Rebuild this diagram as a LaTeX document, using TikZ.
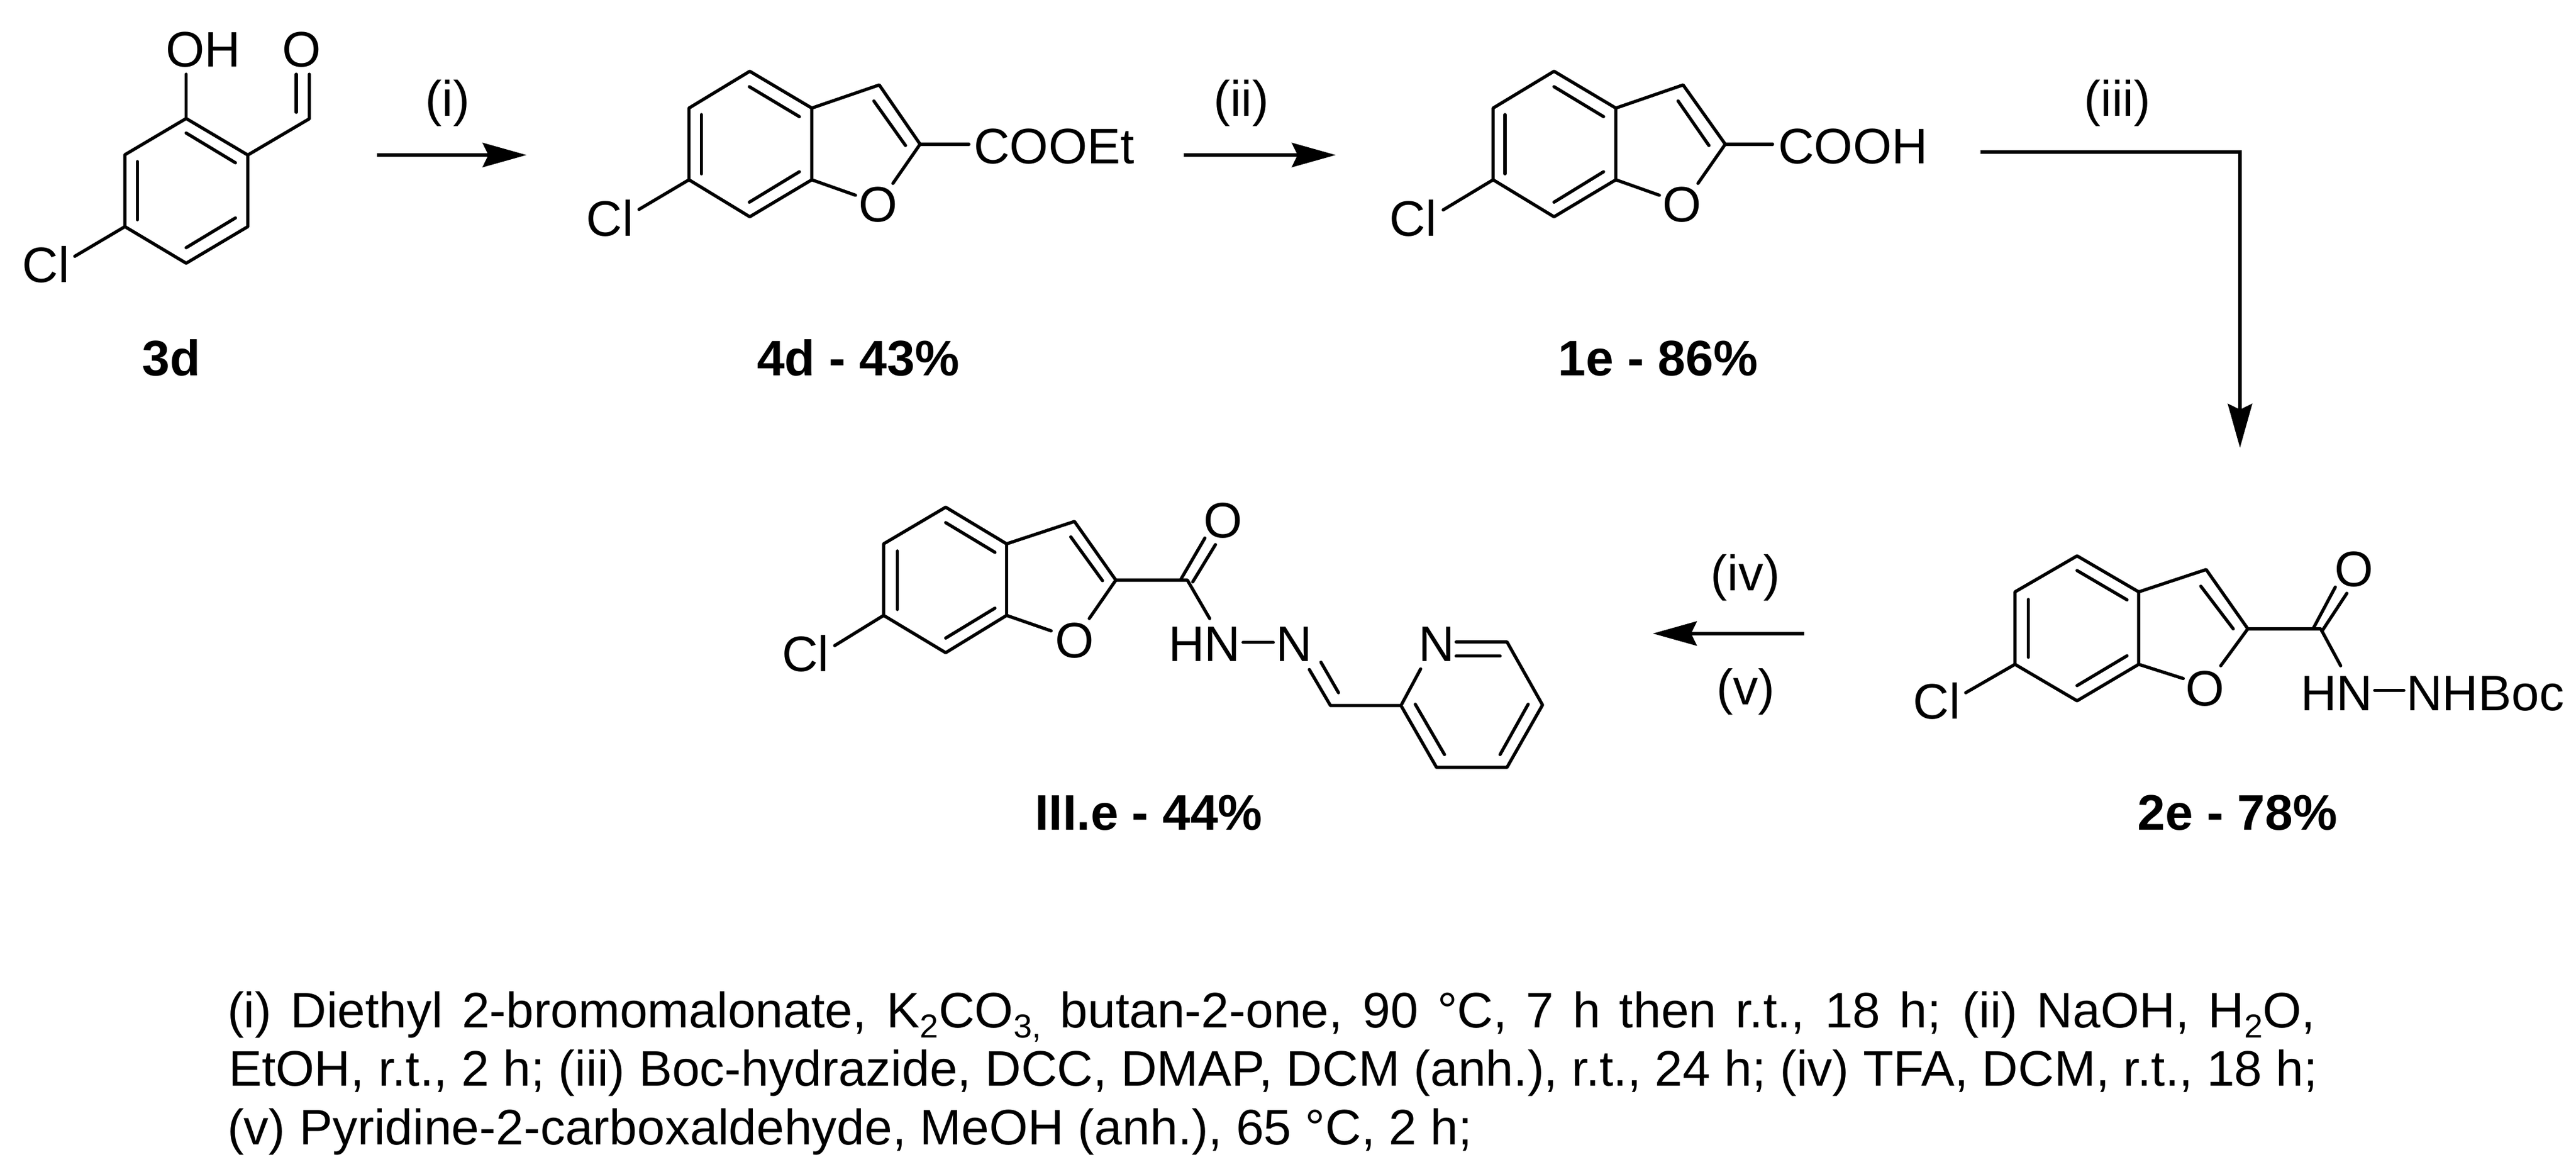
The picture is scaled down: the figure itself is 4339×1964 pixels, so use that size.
\documentclass[tikz,border=0pt]{standalone}
\usepackage{fontspec}
\setmainfont{Liberation Sans}
\usetikzlibrary{arrows.meta}
\newcommand{\lowsub}[1]{\raisebox{-4.25pt}{\fontsize{14}{14}\selectfont #1}}
\tikzset{
  bond/.style={line width=1.35pt,line cap=round,line join=round},
  rxn/.style={line width=1.5pt,line join=miter,-{Stealth[length=18.5pt,width=10.2pt,inset=2.4pt]}},
  atomlab/.style={inner sep=0pt,outer sep=0pt,anchor=base,font=\fontsize{21}{25}\selectfont},
  atomleft/.style={atomlab,anchor=base west},
  cpd/.style={atomlab,font=\fontsize{21}{25}\selectfont\bfseries},
  foot/.style={atomleft}
}
\begin{document}
\begin{tikzpicture}[x=0.25pt,y=-0.25pt]
\useasboundingbox (0,0) rectangle (4339,1964);
\fill[white] (0,0) rectangle (4339,1964);

%% ---------- 3d ----------
\coordinate (d1) at (313.6,199.5);
\coordinate (d2) at (210.4,260.5);
\coordinate (d3) at (210.4,381.6);
\coordinate (d4) at (313.6,443.2);
\coordinate (d5) at (417.4,381.6);
\coordinate (d6) at (417.4,261);
\coordinate (dc) at (521,200);
\coordinate (dOHe) at (313.6,125);
\coordinate (dOe) at (521,125);
\coordinate (dO2s) at (499,189);
\coordinate (dO2e) at (499,125);
\coordinate (dCle) at (126,431.5);
\draw[bond] (d1) -- (d2) -- (d3) -- (d4) -- (d5) -- (d6) -- cycle;
\draw[bond] (d6) -- (dc) -- (dOe);
\draw[bond] (dO2s) -- (dO2e);
\draw[bond] (d1) -- (dOHe);
\draw[bond] (d3) -- (dCle);
\coordinate (di1a) at (313.6,224); \coordinate (di1b) at (396.5,274);
\coordinate (di2a) at (231.5,272); \coordinate (di2b) at (231.5,370);
\coordinate (di3a) at (313.6,417); \coordinate (di3b) at (396.5,367);
\draw[bond] (di1a) -- (di1b);
\draw[bond] (di2a) -- (di2b);
\draw[bond] (di3a) -- (di3b);
\node[atomlab] (dOH) at (342,112) {OH};
\node[atomlab] (dO) at (508.6,112) {O};
\node[atomlab] (dCl) at (77.5,475) {Cl};
\node[cpd] (l3d) at (289,632) {3d};

%% ---------- arrow i ----------
\coordinate (ai) at (635,261);
\coordinate (bi) at (887,261);
\draw[rxn] (ai) -- (bi);
\node[atomlab] (ti) at (754,195) {(i)};

%% ---------- 4d ----------
\coordinate (e1) at (1262.9,120);
\coordinate (e2) at (1160.5,182);
\coordinate (e3) at (1160.5,302.7);
\coordinate (e4) at (1262.9,365);
\coordinate (e5) at (1367.4,302.7);
\coordinate (e6) at (1367.4,182);
\coordinate (e7) at (1481,143);
\coordinate (e8) at (1549.8,242.8);
\coordinate (eOa) at (1441,328.7);
\coordinate (eOb) at (1504,308.8);
\coordinate (eSub) at (1631.9,242.8);
\coordinate (eCle) at (1076.3,352.6);
\draw[bond] (e1) -- (e2) -- (e3) -- (e4) -- (e5) -- (e6) -- cycle;
\draw[bond] (e6) -- (e7) -- (e8) -- (eOb);
\draw[bond] (e5) -- (eOa);
\draw[bond] (e8) -- (eSub);
\draw[bond] (e3) -- (eCle);
\coordinate (ei1a) at (1262.2,146); \coordinate (ei1b) at (1346.4,196.4);
\coordinate (ei2a) at (1181.5,193); \coordinate (ei2b) at (1181.5,292.7);
\coordinate (ei3a) at (1262.2,340.4); \coordinate (ei3b) at (1346.4,289.2);
\coordinate (ei4a) at (1471.9,170); \coordinate (ei4b) at (1525.2,245);
\draw[bond] (ei1a) -- (ei1b);
\draw[bond] (ei2a) -- (ei2b);
\draw[bond] (ei3a) -- (ei3b);
\draw[bond] (ei4a) -- (ei4b);
\node[atomlab] (eO) at (1479.6,373) {O};
\node[atomleft] (eCOOEt) at (1640,275) {COOEt};
\node[atomlab] (eCl) at (1027.5,397) {Cl};
\node[cpd] (l4d) at (1445.6,632) {4d - 43\%};

%% ---------- arrow ii ----------
\coordinate (aii) at (1994,261);
\coordinate (bii) at (2250,261);
\draw[rxn] (aii) -- (bii);
\node[atomlab] (tii) at (2090.7,195) {(ii)};

%% ---------- 1e ----------
\coordinate (f1) at (2617.6,120);
\coordinate (f2) at (2515,182);
\coordinate (f3) at (2515,302.7);
\coordinate (f4) at (2617.6,365);
\coordinate (f5) at (2721.7,302.7);
\coordinate (f6) at (2721.7,182);
\coordinate (f7) at (2835,143);
\coordinate (f8) at (2906,242.8);
\coordinate (fOa) at (2795,328.7);
\coordinate (fOb) at (2860,308.8);
\coordinate (fSub) at (2985.7,242.8);
\coordinate (fCle) at (2430.9,353.4);
\draw[bond] (f1) -- (f2) -- (f3) -- (f4) -- (f5) -- (f6) -- cycle;
\draw[bond] (f6) -- (f7) -- (f8) -- (fOb);
\draw[bond] (f5) -- (fOa);
\draw[bond] (f8) -- (fSub);
\draw[bond] (f3) -- (fCle);
\coordinate (fi1a) at (2617.6,146); \coordinate (fi1b) at (2701,196.4);
\coordinate (fi2a) at (2535,193); \coordinate (fi2b) at (2535,292.7);
\coordinate (fi3a) at (2617.6,340.4); \coordinate (fi3b) at (2701,289.2);
\coordinate (fi4a) at (2826.5,170); \coordinate (fi4b) at (2878.5,245);
\draw[bond] (fi1a) -- (fi1b);
\draw[bond] (fi2a) -- (fi2b);
\draw[bond] (fi3a) -- (fi3b);
\draw[bond] (fi4a) -- (fi4b);
\node[atomlab] (fO) at (2833.4,373) {O};
\node[atomleft] (fCOOH) at (2995,275) {COOH};
\node[atomlab] (fCl) at (2380.6,397) {Cl};
\node[cpd] (l1e) at (2793,632) {1e - 86\%};

%% ---------- arrow iii ----------
\coordinate (aiii) at (3336,256);
\coordinate (ciii) at (3773,256);
\coordinate (biii) at (3773,754);
\draw[rxn] (aiii) -- (ciii) -- (biii);
\node[atomlab] (tiii) at (3566.6,195) {(iii)};

%% ---------- 2e ----------
\coordinate (g1) at (3498.6,936);
\coordinate (g2) at (3394,996.6);
\coordinate (g3) at (3394,1118.6);
\coordinate (g4) at (3498.6,1180);
\coordinate (g5) at (3602.4,1118.6);
\coordinate (g6) at (3602.4,996.6);
\coordinate (g7) at (3716,959);
\coordinate (g8) at (3786.2,1058.8);
\coordinate (g9) at (3909,1058.8);
\coordinate (gOa) at (3677.4,1142.5);
\coordinate (gOb) at (3740.6,1121);
\coordinate (gNe) at (3942.6,1121);
\coordinate (gCle) at (3311,1166.4);
\coordinate (gd1a) at (3897,1057); \coordinate (gd1b) at (3933.5,988.6);
\coordinate (gd2a) at (3911,1062.8); \coordinate (gd2b) at (3953,999);
\coordinate (gnna) at (4000,1162.4); \coordinate (gnnb) at (4049,1162.4);
\draw[bond] (g1) -- (g2) -- (g3) -- (g4) -- (g5) -- (g6) -- cycle;
\draw[bond] (g6) -- (g7) -- (g8) -- (gOb);
\draw[bond] (g5) -- (gOa);
\draw[bond] (g8) -- (g9) -- (gNe);
\draw[bond] (g3) -- (gCle);
\draw[bond] (gd1a) -- (gd1b);
\draw[bond] (gd2a) -- (gd2b);
\draw[bond] (gnna) -- (gnnb);
\coordinate (gi1a) at (3498.6,960.7); \coordinate (gi1b) at (3582.7,1010);
\coordinate (gi2a) at (3416.5,1009.4); \coordinate (gi2b) at (3416.5,1106.6);
\coordinate (gi3a) at (3498.6,1154.4); \coordinate (gi3b) at (3582.7,1104.2);
\coordinate (gi4a) at (3707,987); \coordinate (gi4b) at (3761.6,1058.8);
\draw[bond] (gi1a) -- (gi1b);
\draw[bond] (gi2a) -- (gi2b);
\draw[bond] (gi3a) -- (gi3b);
\draw[bond] (gi4a) -- (gi4b);
\node[atomlab] (gO) at (3714.6,1188) {O};
\node[atomlab] (gO2) at (3965,987) {O};
\node[atomleft] (gHN) at (3875,1196) {HN};
\node[atomleft] (gNHBoc) at (4053,1196) {NHBoc};
\node[atomlab] (gCl) at (3262.5,1210) {Cl};
\node[cpd] (l2e) at (3769,1397) {2e - 78\%};

%% ---------- arrow iv/v ----------
\coordinate (aiv) at (3039,1066.7);
\coordinate (biv) at (2784,1066.7);
\draw[rxn] (aiv) -- (biv);
\node[atomlab] (tiv) at (2940,994) {(iv)};
\node[atomlab] (tv) at (2940,1186.7) {(v)};

%% ---------- III.e ----------
\coordinate (h1) at (1592.9,854);
\coordinate (h2) at (1488.4,915.7);
\coordinate (h3) at (1488.4,1036.2);
\coordinate (h4) at (1592.9,1099);
\coordinate (h5) at (1695.5,1036.2);
\coordinate (h6) at (1695.5,915.7);
\coordinate (h7) at (1809.8,878);
\coordinate (h8) at (1879.5,976.8);
\coordinate (h9) at (2000,976.8);
\coordinate (hOa) at (1770.5,1062.2);
\coordinate (hOb) at (1834.8,1041.4);
\coordinate (hNe) at (2037.5,1041.4);
\coordinate (hCle) at (1406,1087);
\coordinate (hd1a) at (1989,975.5); \coordinate (hd1b) at (2029.5,906);
\coordinate (hd2a) at (2009,979.8); \coordinate (hd2b) at (2047.3,917);
\coordinate (hnna) at (2093.8,1081.7); \coordinate (hnnb) at (2144.6,1081.7);
\coordinate (hc) at (2241,1188);
\coordinate (hn1a) at (2205.4,1127.3);
\coordinate (hn2a) at (2225,1115); \coordinate (hn2b) at (2254.5,1166.3);
\coordinate (p2) at (2359.8,1188);
\coordinate (pNa) at (2392.9,1126.4);
\coordinate (pNb) at (2452.7,1080.9);
\coordinate (p6) at (2538.4,1080.9);
\coordinate (p5) at (2598.2,1187);
\coordinate (p4) at (2538.4,1292);
\coordinate (p3) at (2419.6,1292);
\coordinate (pia) at (2452.7,1104.7); \coordinate (pib) at (2526.8,1104.7);
\coordinate (pi2a) at (2383.9,1185.8); \coordinate (pi2b) at (2433,1270.4);
\coordinate (pi3a) at (2526.8,1270.4); \coordinate (pi3b) at (2574,1185.8);
\draw[bond] (h1) -- (h2) -- (h3) -- (h4) -- (h5) -- (h6) -- cycle;
\draw[bond] (h6) -- (h7) -- (h8) -- (hOb);
\draw[bond] (h5) -- (hOa);
\draw[bond] (h8) -- (h9) -- (hNe);
\draw[bond] (h3) -- (hCle);
\draw[bond] (hd1a) -- (hd1b);
\draw[bond] (hd2a) -- (hd2b);
\draw[bond] (hnna) -- (hnnb);
\draw[bond] (hn1a) -- (hc) -- (p2) -- (pNa);
\draw[bond] (hn2a) -- (hn2b);
\draw[bond] (pNb) -- (p6) -- (p5) -- (p4) -- (p3) -- (p2);
\draw[bond] (pia) -- (pib);
\draw[bond] (pi2a) -- (pi2b);
\draw[bond] (pi3a) -- (pi3b);
\coordinate (hi1a) at (1592.9,880); \coordinate (hi1b) at (1675.9,930);
\coordinate (hi2a) at (1511.6,927.8); \coordinate (hi2b) at (1511.6,1026.2);
\coordinate (hi3a) at (1592.9,1074.4); \coordinate (hi3b) at (1675.9,1024);
\coordinate (hi4a) at (1803.6,904); \coordinate (hi4b) at (1857,977.7);
\draw[bond] (hi1a) -- (hi1b);
\draw[bond] (hi2a) -- (hi2b);
\draw[bond] (hi3a) -- (hi3b);
\draw[bond] (hi4a) -- (hi4b);
\node[atomlab] (hO) at (1809.8,1107.8) {O};
\node[atomlab] (hO2) at (2059.8,905.2) {O};
\node[atomleft] (hHN) at (1968,1113.4) {HN};
\node[atomlab] (hN) at (2179.5,1113.4) {N};
\node[atomlab] (pN) at (2419.6,1113.4) {N};
\node[atomlab] (hCl) at (1357,1130.7) {Cl};
\node[cpd] (l3e) at (1935,1397) {III.e - 44\%};

%% ---------- conditions ----------
\node[foot] (c1) at (383,1730) {\hbox to 879.25pt{(i) Diethyl 2-bromomalonate, K\lowsub{2}CO\lowsub{3,} butan-2-one, 90 °C, 7 h then r.t., 18 h; (ii) NaOH, H\lowsub{2}O,}};
\node[foot] (c2) at (385,1828) {\hbox to 879.75pt{EtOH, r.t., 2 h; (iii) Boc-hydrazide, DCC, DMAP, DCM (anh.), r.t., 24 h; (iv) TFA, DCM, r.t., 18 h;}};
\node[foot] (c3) at (383,1927) {(v) Pyridine-2-carboxaldehyde, MeOH (anh.), 65 °C, 2 h;};
\end{tikzpicture}
\end{document}
